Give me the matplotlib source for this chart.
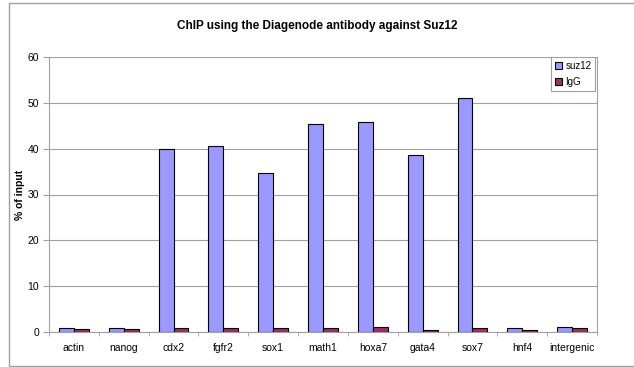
import matplotlib
matplotlib.use("Agg")
import matplotlib.pyplot as plt
import numpy as np
from matplotlib.patches import Rectangle

plt.rcParams['font.family'] = ['Liberation Sans', 'DejaVu Sans']

# data
genes = ['actin', 'nanog', 'cdx2', 'fgfr2', 'sox1', 'math1',
         'hoxa7', 'gata4', 'sox7', 'hnf4', 'intergenic']
suz12 = [0.8, 0.8, 40.0, 40.6, 34.8, 45.4, 45.8, 38.7, 51.0, 0.8, 1.0]
igg = [0.6, 0.6, 0.8, 0.8, 0.8, 0.8, 1.0, 0.5, 0.8, 0.4, 0.8]
yticks = [0, 10, 20, 30, 40, 50, 60]

fig = plt.figure(figsize=(6.34, 3.67), dpi=100)

# outer chart border
fig.patches.append(Rectangle((9 / 634, 1 / 367), 1.0, 363 / 367,
                             transform=fig.transFigure, fill=False,
                             edgecolor='#a0a0a0', linewidth=1.0))

ax = fig.add_axes([49 / 634, 35 / 367, 548 / 634, 275 / 367])

x = np.arange(len(genes))
w = 0.3
ax.bar(x - w / 2, suz12, w, color='#9999FF', edgecolor='black',
       linewidth=0.8, label='suz12', zorder=3)
ax.bar(x + w / 2, igg, w, color='#993366', edgecolor='black',
       linewidth=0.8, label='IgG', zorder=3)

ax.set_xlim(-0.5, len(genes) - 0.5)
ax.set_ylim(0, 60)
ax.set_yticks(yticks)
ax.yaxis.grid(True, color='#a0a0a0', linewidth=0.8, zorder=0)

# category labels centered, ticks at the boundaries
ax.set_xticks(x)
ax.set_xticklabels(genes, fontsize=7.5)
ax.tick_params(axis='x', length=0, pad=8)
ax.set_xticks(np.arange(len(genes) + 1) - 0.5, minor=True)
ax.tick_params(axis='x', which='minor', length=3, color='#a0a0a0')
ax.tick_params(axis='y', labelsize=7.5, length=4, color='#a0a0a0', pad=3)

for s in ['left', 'right', 'bottom']:
    ax.spines[s].set_color('#a0a0a0')
    ax.spines[s].set_linewidth(0.8)
ax.spines['top'].set_visible(False)

ax.set_ylabel('% of input', fontsize=7.5, fontweight='bold', labelpad=2)
fig.text(0.5, 0.93, 'ChIP using the Diagenode antibody against Suz12',
         ha='center', va='center', fontsize=8.5, fontweight='bold')

leg = ax.legend(loc='upper right', bbox_to_anchor=(0.997, 1.0), fontsize=7,
                handlelength=0.7, handleheight=0.7, handletextpad=0.4,
                borderpad=0.4, labelspacing=0.6, fancybox=False,
                framealpha=1, borderaxespad=0)
leg.get_frame().set_edgecolor('#a0a0a0')
leg.get_frame().set_linewidth(0.8)

fig.savefig('out.png', dpi=100)
